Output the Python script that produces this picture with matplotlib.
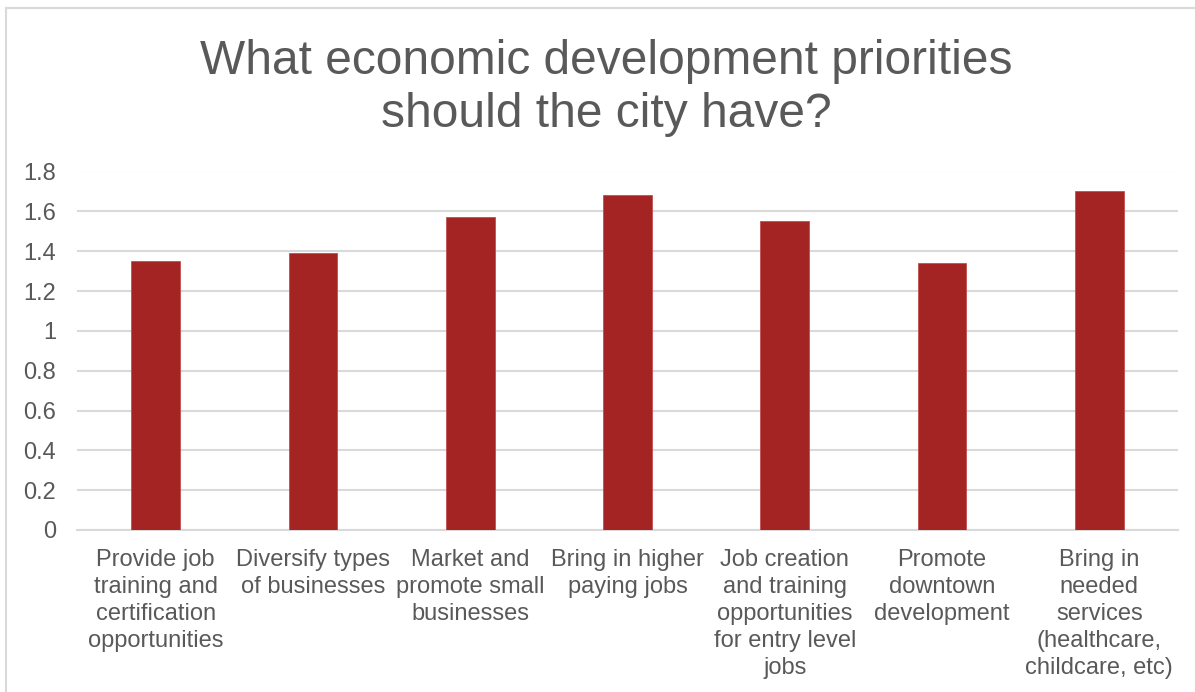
import matplotlib.pyplot as plt
from matplotlib.lines import Line2D

plt.rcParams['font.family'] = ['Liberation Sans', 'DejaVu Sans']

# survey results
categories = [
    'Provide job\ntraining and\ncertification\nopportunities',
    'Diversify types\nof businesses',
    'Market and\npromote small\nbusinesses',
    'Bring in higher\npaying jobs',
    'Job creation\nand training\nopportunities\nfor entry level\njobs',
    'Promote\ndowntown\ndevelopment',
    'Bring in\nneeded\nservices\n(healthcare,\nchildcare, etc)',
]
scores = [1.35, 1.39, 1.57, 1.68, 1.55, 1.34, 1.70]
yticks = [0, 0.2, 0.4, 0.6, 0.8, 1, 1.2, 1.4, 1.6, 1.8]
ytick_labels = ['0', '0.2', '0.4', '0.6', '0.8', '1', '1.2', '1.4', '1.6', '1.8']

text_color = '#595959'
grid_color = '#D9D9D9'
bar_color = '#A32422'

fig = plt.figure(figsize=(11.95, 6.92), dpi=100)
ax = fig.add_axes([77 / 1195, 162 / 692, (1178 - 77) / 1195, (530 - 171.5) / 692])

x = range(len(categories))
ax.bar(x, scores, width=0.31, color=bar_color, edgecolor='#C0504D', linewidth=0.6, zorder=3)

ax.set_xlim(-0.5, len(categories) - 0.5)
ax.set_ylim(0, 1.8)
ax.set_yticks(yticks)
ax.set_yticklabels(ytick_labels)
ax.set_xticks(list(x))
ax.set_xticklabels(categories, linespacing=1.3)

ax.tick_params(axis='y', length=0, pad=15, labelsize=17, labelcolor=text_color)
ax.tick_params(axis='x', length=0, pad=13.5, labelsize=17, labelcolor=text_color)
ax.yaxis.grid(True, color=grid_color, linewidth=1.5, zorder=0)
ax.set_axisbelow(True)
for side in ['top', 'right', 'left']:
    ax.spines[side].set_visible(False)
ax.spines['bottom'].set_color(grid_color)
ax.spines['bottom'].set_linewidth(1.5)

fig.text(606 / 1195, 1 - 88 / 692, 'What economic development priorities\nshould the city have?',
         ha='center', va='center', fontsize=34.5, color=text_color, linespacing=1.24)

# chart area border
fig.add_artist(Line2D([5.5 / 1195, 5.5 / 1195], [0, 1 - 7.5 / 692], color=grid_color, linewidth=1.5,
                      transform=fig.transFigure))
fig.add_artist(Line2D([5.5 / 1195, 1], [1 - 7.5 / 692, 1 - 7.5 / 692], color=grid_color, linewidth=1.5,
                      transform=fig.transFigure))

fig.savefig('out.png', dpi=100)
